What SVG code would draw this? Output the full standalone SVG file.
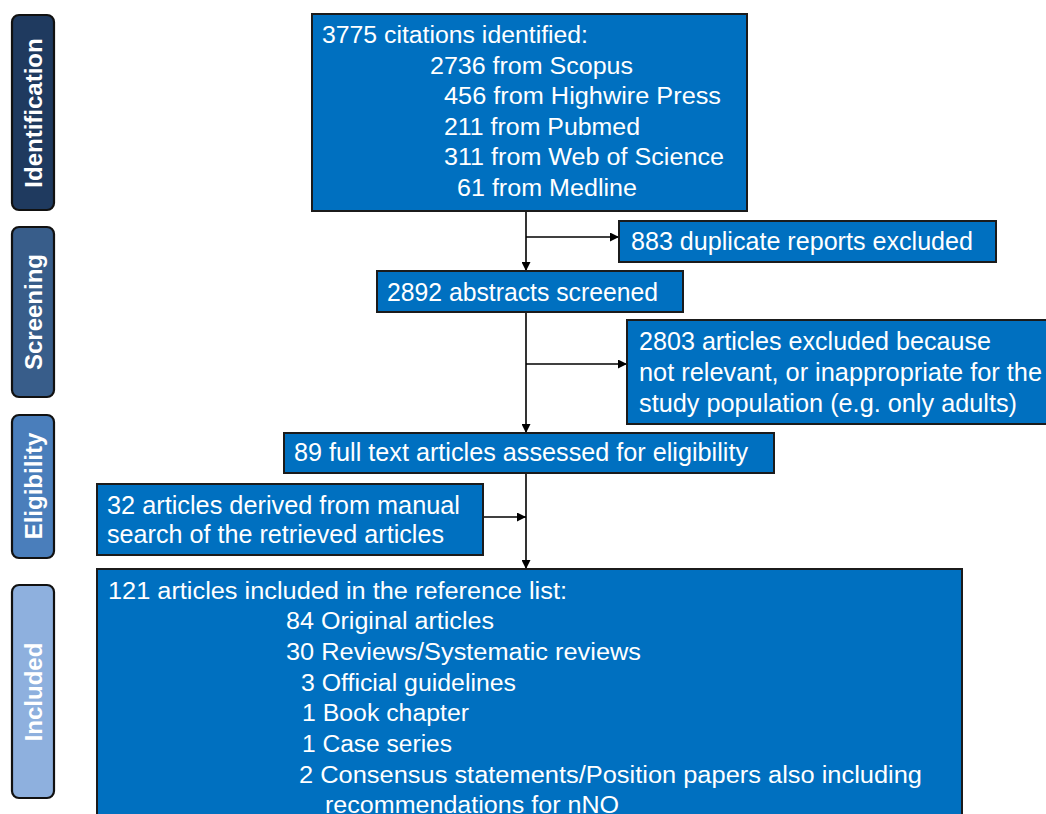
<svg xmlns="http://www.w3.org/2000/svg" width="1046" height="814" viewBox="0 0 1046 814">
<defs>
<style>
.stage{stroke:#111;stroke-width:2.2}
.stxt{font-family:"Liberation Sans",Arial,sans-serif;font-weight:bold;font-size:24px;fill:#fff;text-anchor:middle}
.box{fill:#0070C0;stroke:#1b1b1b;stroke-width:2}
.t{font-family:"Liberation Sans",Arial,sans-serif;font-size:25px;fill:#fff}
.n{font-family:"Liberation Sans",Arial,sans-serif;font-size:23px;fill:#fff}
.c{stroke:#000;stroke-width:1.6;fill:none}
</style>
<marker id="ah" viewBox="0 0 10 10" refX="10" refY="5" markerWidth="9" markerHeight="9" markerUnits="userSpaceOnUse" orient="auto">
<path d="M0,0 L10,5 L0,10 z" fill="#000"/>
</marker>
</defs>
<rect width="1046" height="814" fill="#fff"/>

<g id="stage-identification">
<rect class="stage" x="12" y="15" width="42" height="195" rx="7" fill="#1F3A5F"/>
<text class="stxt" transform="translate(42,113) rotate(-90)">Identification</text>
</g>
<g id="stage-screening">
<rect class="stage" x="12" y="227" width="42" height="170" rx="7" fill="#385D8A"/>
<text class="stxt" transform="translate(42,312) rotate(-90)">Screening</text>
</g>
<g id="stage-eligibility">
<rect class="stage" x="12" y="415" width="42" height="143" rx="7" fill="#4A7EBB"/>
<text class="stxt" transform="translate(42,486) rotate(-90)">Eligibility</text>
</g>
<g id="stage-included">
<rect class="stage" x="12" y="585" width="42" height="213" rx="7" fill="#8EB0DE"/>
<text class="stxt" transform="translate(42,692) rotate(-90)">Included</text>
</g>

<g id="connectors">
<line class="c" x1="526" y1="211" x2="526" y2="271" marker-end="url(#ah)"/>
<line class="c" x1="526" y1="237" x2="619" y2="237" marker-end="url(#ah)"/>
<line class="c" x1="526" y1="312" x2="526" y2="433" marker-end="url(#ah)"/>
<line class="c" x1="526" y1="364" x2="627" y2="364" marker-end="url(#ah)"/>
<line class="c" x1="526" y1="473" x2="526" y2="569" marker-end="url(#ah)"/>
<line class="c" x1="483" y1="517" x2="526" y2="517" marker-end="url(#ah)"/>
</g>

<g id="node-identified">
<rect class="box" x="312" y="14" width="435" height="197"/>
<text class="n" x="322" y="43" textLength="266" lengthAdjust="spacingAndGlyphs">3775  citations  identified:</text>
<text class="n" x="430" y="74" textLength="203" lengthAdjust="spacingAndGlyphs">2736  from Scopus</text>
<text class="n" x="444" y="104" textLength="277" lengthAdjust="spacingAndGlyphs">456  from Highwire  Press</text>
<text class="n" x="444" y="135" textLength="196" lengthAdjust="spacingAndGlyphs">211  from Pubmed</text>
<text class="n" x="444" y="165" textLength="280" lengthAdjust="spacingAndGlyphs">311  from Web  of Science</text>
<text class="n" x="457" y="196" textLength="180" lengthAdjust="spacingAndGlyphs">61  from Medline</text>
</g>

<g id="node-duplicates">
<rect class="box" x="619" y="221" width="377" height="41"/>
<text class="t" x="631" y="250" textLength="342" lengthAdjust="spacingAndGlyphs">883 duplicate  reports  excluded</text>
</g>

<g id="node-screened">
<rect class="box" x="377" y="271" width="306" height="41"/>
<text class="t" x="387" y="301" textLength="271" lengthAdjust="spacingAndGlyphs">2892  abstracts  screened</text>
</g>

<g id="node-excluded">
<rect class="box" x="627" y="320" width="440" height="104"/>
<text class="t" x="639" y="350" textLength="352" lengthAdjust="spacingAndGlyphs">2803  articles  excluded  because</text>
<text class="t" x="639" y="381" textLength="403" lengthAdjust="spacingAndGlyphs">not relevant,  or inappropriate  for the</text>
<text class="t" x="639" y="412" textLength="378" lengthAdjust="spacingAndGlyphs">study population  (e.g.  only adults)</text>
</g>

<g id="node-fulltext">
<rect class="box" x="284" y="433" width="490" height="40"/>
<text class="t" x="294" y="461" textLength="454" lengthAdjust="spacingAndGlyphs">89 full text articles  assessed  for eligibility</text>
</g>

<g id="node-manual">
<rect class="box" x="97" y="484" width="386" height="71"/>
<text class="t" x="107" y="514" textLength="353" lengthAdjust="spacingAndGlyphs">32 articles  derived  from manual</text>
<text class="t" x="107" y="543" textLength="337" lengthAdjust="spacingAndGlyphs">search of the retrieved  articles</text>
</g>

<g id="node-included">
<rect class="box" x="97" y="569" width="865" height="260"/>
<text class="n" x="108" y="599" textLength="459" lengthAdjust="spacingAndGlyphs">121 articles  included  in the reference list:</text>
<text class="n" x="286" y="629" textLength="208" lengthAdjust="spacingAndGlyphs">84 Original  articles</text>
<text class="n" x="286" y="660" textLength="355" lengthAdjust="spacingAndGlyphs">30 Reviews/Systematic  reviews</text>
<text class="n" x="301" y="691" textLength="215" lengthAdjust="spacingAndGlyphs">3 Official guidelines</text>
<text class="n" x="302" y="721" textLength="167" lengthAdjust="spacingAndGlyphs">1 Book chapter</text>
<text class="n" x="302" y="752" textLength="150" lengthAdjust="spacingAndGlyphs">1 Case  series</text>
<text class="n" x="299" y="783" textLength="623" lengthAdjust="spacingAndGlyphs">2 Consensus  statements/Position  papers also including</text>
<text class="n" x="325" y="813" textLength="294" lengthAdjust="spacingAndGlyphs">recommendations  for nNO</text>
</g>
</svg>
